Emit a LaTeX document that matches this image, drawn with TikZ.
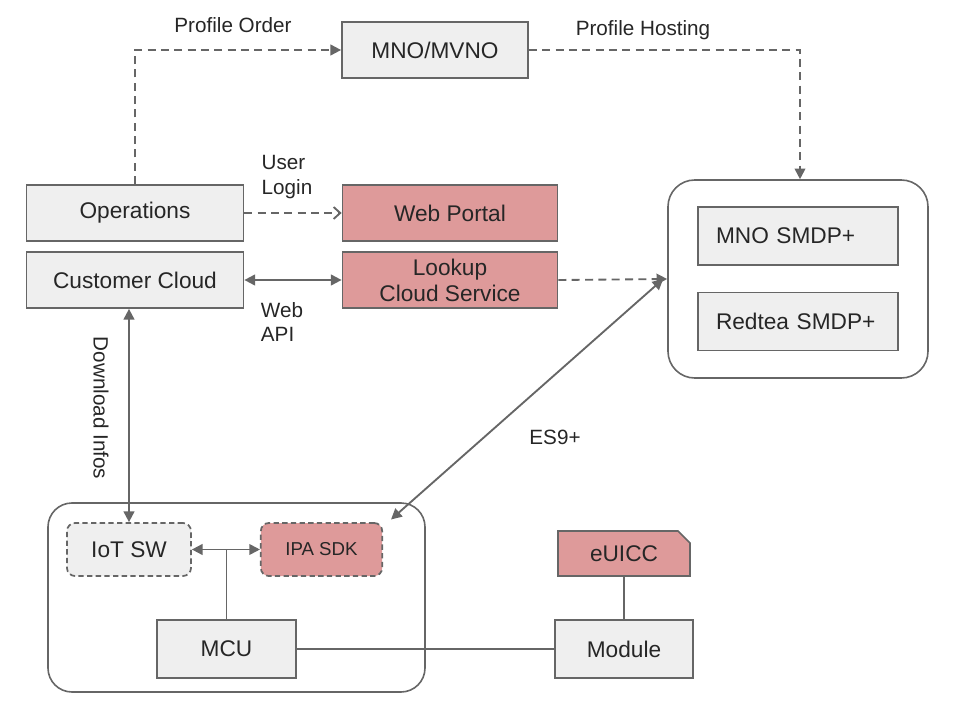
\documentclass[tikz,border=0pt]{standalone}
\usepackage{fontspec}
\setmainfont{Liberation Sans}
\usetikzlibrary{arrows.meta,shapes.misc}
\definecolor{BoxGray}{HTML}{EFEFEF}
\definecolor{BoxRed}{HTML}{DE9A9A}
\definecolor{LineGray}{HTML}{666666}
\definecolor{TextGray}{HTML}{262626}

\tikzset{
	graybox/.style={draw=LineGray, line width=1.3pt, fill=BoxGray, text=TextGray, inner sep=0pt, font=\fontsize{17}{20}\selectfont, align=center},
	redbox/.style={graybox, fill=BoxRed},
	groupbox/.style={draw=LineGray, line width=1.2pt, rounded corners=20pt, inner sep=0pt},
	lbl/.style={text=TextGray, inner sep=0.75pt, font=\fontsize{15.5}{18.5}\selectfont, align=left},
	link/.style={draw=LineGray, line width=1.4pt},
	dlink/.style={link, dash pattern=on 6pt off 4pt},
	tip/.style={-{Triangle[width=8pt,length=8pt]}},
	tips/.style={{Triangle[width=8pt,length=8pt]}-{Triangle[width=8pt,length=8pt]}}
}

\begin{document}
\begin{tikzpicture}[x=0.75pt,y=0.75pt,yscale=-1,xscale=1]
		\useasboundingbox (0,0) rectangle (967,720);

		% Group frames
		\node[groupbox, minimum width=195pt, minimum height=148.5pt] (smdp) at (798,279) {};
		\node[groupbox, minimum width=282.75pt, minimum height=141.75pt, rounded corners=18pt] (device) at (236.5,597.5) {};

		% Top row
		\node[graybox, minimum width=139.5pt, minimum height=42pt] (mno) at (435,50) {MNO/MVNO};

		% Cloud side boxes
		\node[graybox, minimum width=162.75pt, minimum height=42pt] (ops) at (135,213) {Operations};
		\node[graybox, minimum width=162.75pt, minimum height=42pt] (cloud) at (135,280) {Customer Cloud};
		\node[redbox, minimum width=161.25pt, minimum height=42pt] (portal) at (450,213) {Web Portal};
		\node[redbox, minimum width=161.25pt, minimum height=42pt, font=\fontsize{17}{19.5}\selectfont] (lookup) at (450,280) {Lookup\\Cloud Service};

		% SMDP+ servers
		\node[graybox, minimum width=150pt, minimum height=43.5pt, align=left, text width=123pt] (mnosmdp) at (798,236) {MNO SMDP+};
		\node[graybox, minimum width=150pt, minimum height=43.5pt, align=left, text width=123pt] (redtea) at (798,321.5) {Redtea SMDP+};

		% Device side boxes
		\node[graybox, dashed, dash pattern=on 4pt off 2.5pt, rounded corners=6pt, minimum width=93pt, minimum height=39.75pt] (iot) at (129,549.5) {IoT SW};
		\node[redbox, dashed, dash pattern=on 4pt off 2.5pt, rounded corners=6pt, minimum width=91pt, minimum height=39.75pt, font=\fontsize{14}{17}\selectfont] (ipa) at (321.5,549.5) {IPA SDK};
		\node[graybox, minimum width=104.25pt, minimum height=43.5pt] (mcu) at (226.5,649) {MCU};
		\node[graybox, minimum width=103.5pt, minimum height=43.5pt] (module) at (624,649) {Module};
		\node[redbox, chamfered rectangle, chamfered rectangle corners=north east, chamfered rectangle xsep=4.5pt, chamfered rectangle ysep=4.5pt, minimum width=99pt, minimum height=33.75pt] (euicc) at (624,553.5) {eUICC};

		% Profile order and hosting
		\draw[dlink, tip] (ops.north) |- (mno.west);
		\draw[dlink, tip] (mno.east) -| ([xshift=1.5pt]smdp.north);
		\node[lbl] (orderlbl) at (233,25) {Profile Order};
		\node[lbl] (hostlbl) at (643,30) {Profile Hosting};

		% User login and web API
		\draw[dlink, -{Straight Barb[width=9pt,length=5pt]}] (ops.east) -- (portal.west);
		\node[lbl] (loginlbl) at (287,177) {User\\Login};
		\draw[link, tips] (cloud.east) -- (lookup.west);
		\node[lbl] (apilbl) at (282,322) {Web\\API};
		\draw[dlink, tip] (lookup.east) -- (smdp.west);

		% ES9+
		\draw[link, tips] ([shift={(-3pt,0pt)}]smdp.west) -- ([shift={(6pt,-2pt)}]ipa.north east);
		\node[lbl] (eslbl) at (555,437) {ES9+};

		% Download infos
		\draw[link, tips] (iot.north |- cloud.south) -- (iot.north);
		\node[lbl, rotate=-90] (dllbl) at (101,408) {Download Infos};

		% Inside the device
		\draw[link, tips] (iot.east) -- (ipa.west);
		\draw[link] (mcu.north) -- (mcu.north |- iot.east);
		\draw[link] (mcu.east) -- (module.west);
		\draw[link] (euicc.south) -- (module.north);
	\end{tikzpicture}
\end{document}
